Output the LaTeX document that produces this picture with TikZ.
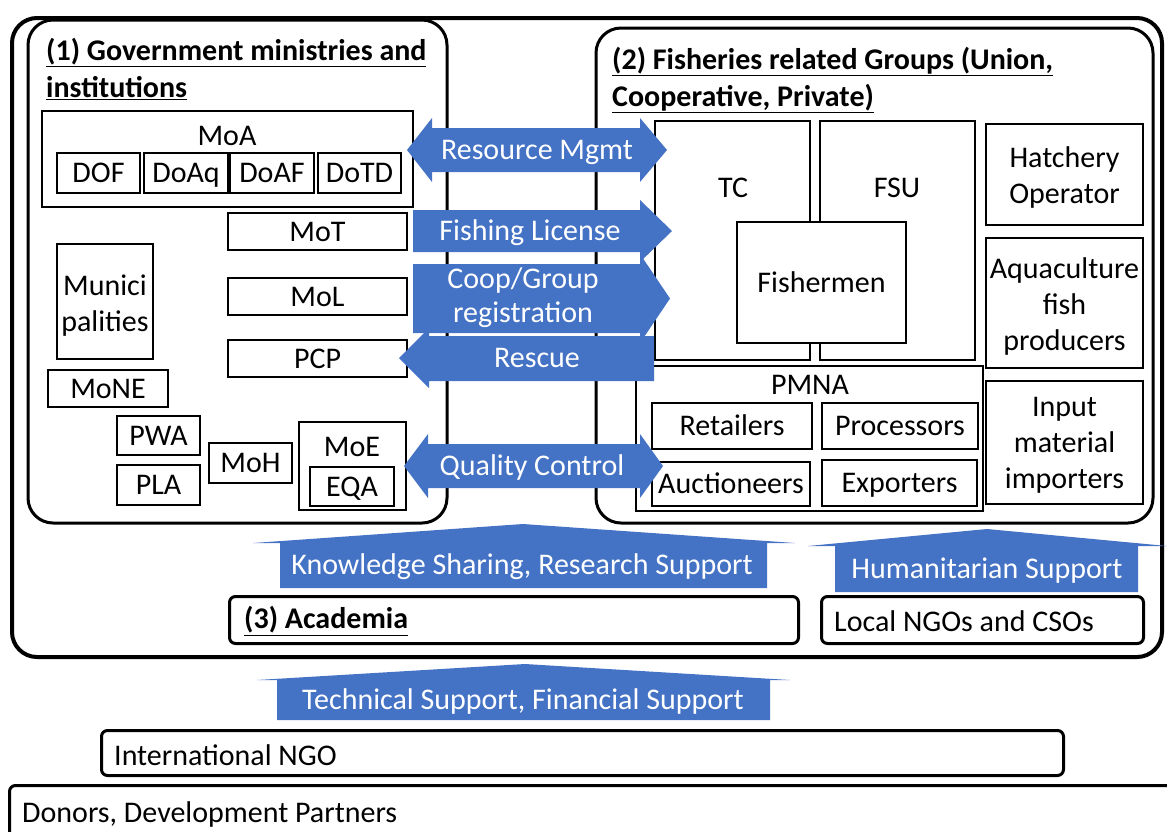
\documentclass[tikz,border=0pt]{standalone}
\usepackage{fontspec}
\setmainfont{Carlito}
\usetikzlibrary{positioning}
\definecolor{arrowblue}{HTML}{4472C4}

\begin{document}
\begin{tikzpicture}[x=1pt,y=-1pt,
    txt/.style={font=\fontsize{30}{36}\selectfont},
    box/.style={draw, line width=1.5pt, fill=white, txt, align=center, inner sep=2pt},
    one/.style={box, text height=19pt, text depth=0pt},
    group/.style={draw, line width=3pt, rounded corners=25pt, minimum width=#1},
    bar/.style={draw, line width=3pt, rounded corners=6pt, anchor=north west, fill=white},
    blk/.style={fill=arrowblue},
    lbl/.style={txt, text=white, align=center, inner sep=0pt, text height=19pt, text depth=0pt}]
  \useasboundingbox (0,0) rectangle (1167,831);

  % containers
  \node[group=1150pt, line width=4pt, minimum height=639pt] (outer) at (587,337.5) {};
  \node[group=419pt, minimum height=503pt] (gov) at (237.5,271.5) {};
  \node[group=557pt, minimum height=495pt] (fish) at (874.5,275.5) {};
  \node[txt, font=\fontsize{30}{37}\selectfont, anchor=north west, align=left, inner sep=0pt] (govtitle) at (46,38)
    {\underline{\textbf{(1) Government ministries and}}\\\underline{\textbf{institutions}}};
  \node[txt, font=\fontsize{30}{37}\selectfont, anchor=north west, align=left, inner sep=0pt] (fishtitle) at (612,47)
    {\underline{\textbf{(2) Fisheries related Groups (Union,}}\\\underline{\textbf{Cooperative, Private)}}};

  % (1) government
  \node[box, minimum width=371pt, minimum height=96pt] (moa) at (227.5,159) {};
  \node[txt, inner sep=0pt] at (227,136) {MoA};
  \node[one, minimum width=83pt, minimum height=40pt] (dof) at (98.5,173) {DOF};
  \node[one, minimum width=84pt, minimum height=40pt] (doaq) at (186,173) {DoAq};
  \node[one, minimum width=84pt, minimum height=40pt] (doaf) at (272,173) {DoAF};
  \node[one, minimum width=83pt, minimum height=40pt] (dotd) at (359.5,173) {DoTD};
  \node[one, minimum width=179pt, minimum height=37pt] (mot) at (317.5,231.5) {MoT};
  \node[one, minimum width=179pt, minimum height=37pt] (mol) at (317.5,296.5) {MoL};
  \node[one, minimum width=179pt, minimum height=37pt] (pcp) at (317.5,358.5) {PCP};
  \node[box, minimum width=96pt, minimum height=115pt] (muni) at (105,301.5) {};
  \node[txt, align=center, inner sep=0pt] at ([yshift=-4pt]muni) {Munici\\palities};
  \node[one, minimum width=120pt, minimum height=37pt] (mone) at (108,388.5) {MoNE};
  \node[one, minimum width=83pt, minimum height=39pt] (pwa) at (158.5,435.5) {PWA};
  \node[one, minimum width=83pt, minimum height=40pt] (pla) at (158.5,485) {PLA};
  \node[one, minimum width=83pt, minimum height=40pt] (moh) at (250.5,463) {MoH};
  \node[box, minimum width=107pt, minimum height=88pt] (moe) at (352.5,466) {};
  \node[txt, inner sep=0pt] at (352,447) {MoE};
  \node[one, minimum width=84pt, minimum height=39pt] (eqa) at (352,486.5) {EQA};

  % (2) fisheries groups
  \node[box, minimum width=155pt, minimum height=239pt] (tc) at (732.5,240.5) {};
  \node[txt, inner sep=0pt] at (733,188) {TC};
  \node[box, minimum width=155pt, minimum height=239pt] (fsu) at (897.5,240.5) {};
  \node[txt, inner sep=0pt] at (897,188) {FSU};
  \node[one, minimum width=169pt, minimum height=121pt] (fishermen) at (821.5,282.5) {Fishermen};
  \node[box, minimum width=157pt, minimum height=101pt] (hatch) at (1064.5,174.5) {};
  \node[txt, align=center, inner sep=0pt] at ([yshift=-3pt]hatch) {Hatchery\\Operator};
  \node[box, minimum width=157pt, minimum height=130pt] (aqua) at (1064.5,303) {};
  \node[txt, align=center, inner sep=0pt] at ([yshift=-3pt]aqua) {Aquaculture\\fish\\producers};
  \node[box, minimum width=157pt, minimum height=123pt] (input) at (1064.5,442.5) {};
  \node[txt, align=center, inner sep=0pt] at ([yshift=-3pt]input) {Input\\material\\importers};
  \node[box, minimum width=347pt, minimum height=145pt] (pmna) at (809.5,438.5) {};
  \node[txt, inner sep=0pt] at (810,385) {PMNA};
  \node[one, minimum width=160pt, minimum height=46pt] (ret) at (732,426) {Retailers};
  \node[one, minimum width=156pt, minimum height=46pt] (proc) at (900,426) {Processors};
  \node[one, minimum width=158pt, minimum height=44pt] (auct) at (731,484) {Auctioneers};
  \node[one, minimum width=155pt, minimum height=46pt] (expo) at (899.5,483) {Exporters};

  % (3) and supporters
  \node[bar, minimum width=569pt, minimum height=47pt] (acad) at (228,595) {};
  \node[txt, anchor=west, inner sep=0pt] at (244,621) {\underline{\textbf{(3) Academia}}};
  \node[bar, minimum width=322pt, minimum height=47pt] (lngo) at (820,595) {};
  \node[txt, anchor=west, inner sep=0pt] at (834,621) {Local NGOs and CSOs};
  \node[bar, minimum width=962pt, minimum height=45pt] (ingo) at (100,729) {};
  \node[txt, anchor=west, inner sep=0pt] at (114,755) {International NGO};
  \node[bar, minimum width=1200pt, minimum height=80pt] (donors) at (8,784) {};
  \node[txt, anchor=west, inner sep=0pt] at (22,814) {Donors, Development Partners};

  % block arrows
  \fill[blk] (407,150) -- (432,118) -- (432,128) -- (640,128) -- (640,118) -- (667,150)
    -- (640,182) -- (640,172) -- (432,172) -- (432,182) -- cycle;
  \node[lbl] (resmgmt) at (537,150) {Resource Mgmt};
  \fill[blk] (413,210) -- (640,210) -- (640,200) -- (672,231) -- (640,262) -- (640,252)
    -- (413,252) -- cycle;
  \node[lbl] (license) at (530,231) {Fishing License};
  \fill[blk] (413,264) -- (640,264) -- (640,254) -- (670,298.5) -- (640,343) -- (640,333)
    -- (413,333) -- cycle;
  \node[lbl, text height=, text depth=, font=\fontsize{30}{34}\selectfont] (coop) at (523,298) {Coop/Group\\registration};
  \fill[blk] (399,358) -- (429,328) -- (429,336) -- (654,336) -- (654,381) -- (429,381)
    -- (429,388) -- cycle;
  \node[lbl] (rescue) at (537,358) {Rescue};
  \fill[blk] (404,466) -- (428,434) -- (428,444) -- (640,444) -- (640,434) -- (663,466)
    -- (640,498) -- (640,488) -- (428,488) -- (428,498) -- cycle;
  \node[lbl] (quality) at (532,466) {Quality Control};

  \fill[blk] (280,588) -- (280,543) -- (253,543) -- (523,524) -- (795,543) -- (767,543)
    -- (767,588) -- cycle;
  \node[lbl] (knowledge) at (522,565) {Knowledge Sharing, Research Support};
  \fill[blk] (835,592) -- (835,546) -- (808,546) -- (987,529) -- (1167,546) -- (1138,546)
    -- (1138,592) -- cycle;
  \node[lbl] (humanitarian) at (987,569) {Humanitarian Support};
  \fill[blk] (277,720) -- (277,680) -- (257,680) -- (525,664) -- (790,680) -- (770,680)
    -- (770,720) -- cycle;
  \node[lbl] (technical) at (523,700) {Technical Support, Financial Support};
\end{tikzpicture}
\end{document}
